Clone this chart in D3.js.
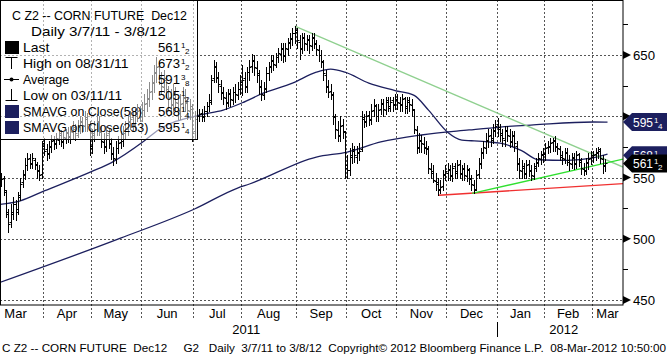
<!DOCTYPE html>
<html><head><meta charset="utf-8">
<script src="https://cdn.jsdelivr.net/npm/d3@7"></script>
<style>
body{margin:0;background:#fff}
svg{display:block}
text{font-family:"Liberation Sans",Arial,sans-serif;white-space:pre}
</style>
</head><body>
<svg id="c" width="668" height="356"></svg>
<script>
// ---- DATA (daily OHLC, trading days 3/7/11 .. 3/8/12) ----
const opens = [
544,547,550,538,520,514,522,528,524,536,546,553,560,566,561,564,561,555,553,
578,573,569,575,581,577,581,586,579,582,587,583,587,591,585,591,596,592,599,594,
574,586,590,596,587,579,575,586,577,569,565,574,579,580,586,590,596,599,593,600,605,
600,605,611,614,621,627,636,641,631,624,631,621,616,609,619,611,604,611,616,611,604,606,
588,598,600,603,599,604,608,613,631,641,631,625,619,615,611,619,613,620,617,622,
628,631,624,636,641,646,639,634,624,617,623,635,641,646,642,648,651,656,649,655,661,663,668,
669,661,656,664,659,663,657,665,659,654,650,644,634,624,621,617,599,589,584,593,587,
560,556,567,573,567,571,573,599,595,601,597,605,609,600,606,611,605,613,607,613,609,
613,611,609,615,607,613,609,605,589,574,581,577,574,573,557,555,547,546,541,543,553,
554,557,551,559,554,561,553,558,551,557,549,544,541,553,561,571,574,581,585,581,589,
594,591,585,581,589,584,579,585,576,561,555,559,553,561,555,551,559,563,565,569,
569,575,575,579,581,575,573,567,565,571,563,561,567,561,569,563,557,555,563,566,
567,569,571,573,565,559];
const highs = [
552,554,551,540,524,528,534,532,538,550,556,566,570,569,570,566,563,560,580,
582,577,580,585,584,586,590,589,587,590,591,592,596,594,597,600,599,604,603,596,
590,596,602,600,592,586,592,590,582,575,580,584,588,592,596,600,604,604,606,610,608,
612,618,622,628,634,642,648,645,636,638,634,625,622,626,624,616,618,624,622,616,614,610,
604,604,606,606,608,612,618,634,646,644,636,630,624,620,622,622,624,626,628,634,
642,636,640,646,651,650,645,638,630,628,640,644,650,650,652,656,660,660,660,664,668,672,673.5,
672,666,668,668,666,666,668,668,662,658,654,646,638,630,626,620,602,596,600,598,588,
568,574,578,576,576,578,604,602,604,604,610,614,610,610,614,614,616,616,616,616,618,
618,616,618,616,616,616,614,606,592,586,585,583,580,576,562,560,554,550,548,556,560,
562,560,562,562,564,564,560,562,560,558,552,548,556,566,574,580,586,590,590,594,597,
598.5,594,590,592,592,590,588,588,580,566,564,562,564,564,560,562,566,570,572,574,
578,580,582,582,584,578,576,572,574,574,568,570,570,572,570,566,562,566,570,572,
572,574,575,574,568,565];
const lows = [
540,543,536,518,505.5,510,516,515,520,532,542,549,556,558,558,557,550,548,550,
568,564,566,571,573,574,577,576,574,578,579,578,582,581,583,586,587,588,588,568,
570,580,585,585,575,570,572,574,565,560,562,570,574,576,582,585,590,589,590,596,596,
596,600,604,608,614,620,628,626,618,620,616,606,602,604,604,598,598,604,604,598,598,580,
582,594,596,596,596,600,604,610,628,628,620,614,610,606,608,608,610,612,614,618,
617,620,620,630,636,634,628,618,613,614,620,630,636,638,640,644,646,644,645,650,656,658,660,
656,647,652,654,654,652,654,656,650,645,640,630,620,616,614,594,582,580,580,582,550,
550,552,562,563,562,564,572,591,592,593,594,600,596,596,602,600,602,604,604,604,606,
606,604,604,603,603,604,600,586,570,571,571,570,569,554,550,546,540,536,537,540,548,
548,548,547,550,550,550,548,548,547,545,540,537,540,550,558,566,570,575,576,578,584,
584,580,576,576,580,575,576,572,556,550,550,550,550,551,548,549,555,559,561,563,
564,570,571,572,572,569,564,561,562,560,556,558,557,558,559,553,552,553,557,561,
563,564,566,562,554,555];
const closes = [
546,549,540,522,512,520,528,522,534,545,552,560,565,562,566,560,556,552,576,
572,570,576,580,578,582,585,580,583,586,584,588,590,586,592,595,593,598,594,576,
585,590,595,588,580,576,585,578,570,566,574,578,580,586,590,595,598,594,600,604,600,
605,610,615,620,628,635,640,632,625,630,622,615,610,618,612,605,610,615,612,605,608,586,
598,600,602,600,604,608,612,630,640,632,626,620,616,612,618,614,620,618,622,628,
630,625,636,640,645,640,635,625,618,622,635,640,645,643,648,652,655,650,656,660,664,668,670,
662,655,665,660,662,658,664,660,655,650,645,635,625,620,618,600,590,585,592,588,558,
556,568,572,568,570,572,598,596,600,598,604,608,600,605,610,606,612,608,612,610,614,
612,610,614,608,612,610,606,590,575,580,578,575,574,558,554,548,545,540,542,552,555,
556,552,558,555,560,554,557,552,556,550,545,540,552,562,570,575,580,584,582,588,592,
590,586,582,588,585,580,584,578,562,556,558,554,560,556,552,558,562,566,568,570,
574,576,578,580,576,574,568,566,570,564,562,566,562,568,564,558,556,562,565,568,
568,570,572,566,560,561.5];

// moving averages (bar index, value)
const ma58Idx = [0,9,19,39,47,61,67,84,94,102,111,123,133,139,145,155,166,174,180,188,194,198,205,210,219,226,238,249,255];
const ma58Val = [528,531,539,555,562,580,589,601,605,611,619,627,636,638.5,636,627,621,617,605,587,580.5,580,579,578,572,564.5,564,566,569];
const ma253Idx = [0,51,82,100,105,133,146,160,177,197,210,224,249,255];
const ma253Val = [464,500.5,524.3,541.4,544.7,566.7,570.8,579,584.7,588.8,591.2,592.9,595.3,595.25];

// trend lines (bar index, value)
const resistIdx = [124,261.5], resistVal = [673.5,558.5];
const supportIdx = [198.3,261.5], supportVal = [537,565];
const floorIdx = [184.4,261.5], floorVal = [535.5,545];

// axis / calendar
const monthNames = ["Mar","Apr","May","Jun","Jul","Aug","Sep","Oct","Nov","Dec","Jan","Feb","Mar"];
const monthStartIdx = [-4,19,39,60,82,102,125,146,167,188,209,229,249];
const yearLabels = ["2011","2012"];
const yearStartIdx = [-4,209];
const majorTicks = [450,500,550,600,650];
const labelTicks = [450,500,550,650];
const minorTicks = [475,525,575,625,675];

const legendLabels = ["Last","High on 08/31/11","Average","Low on 03/11/11","SMAVG on Close(58)","SMAVG on Close(253)"];
const legendValues = [["561","1","2"],["673","1","2"],["591","3","8"],["505","1","2"],["568","1","4"],["595","1","4"]];
const tagValues = [595.25,568.25,561.5];
const tagTexts = [["595","1","4"],["568","1","4"],["561","1","2"]];
const footerText = "C Z2 -- CORN FUTURE  Dec12     G2   Daily  3/7/11 to 3/8/12  Copyright\u00A9 2012 Bloomberg Finance L.P.  08-Mar-2012 10:50:00";

// ---- DRAW ----
const svg = d3.select('#c');
const PR = 623, PB = 305;
const xs = d3.scaleLinear().domain([18.5,248.5]).range([43,592]);
const ys = d3.scaleLinear().domain([450,650]).range([300,55]);
const NAVY = "#1c1f5e";

svg.append('rect').attr('width',668).attr('height',356).attr('fill','#fff');
const defs = svg.append('defs');
defs.append('clipPath').attr('id','clip')
  .append('rect').attr('x',0).attr('y',0).attr('width',PR).attr('height',PB);

const fit = (sel,w)=>sel.attr('textLength',w).attr('lengthAdjust','spacingAndGlyphs');
const hp = v=>Math.round(v)+0.5;

// gridlines
const grid = svg.append('g').attr('stroke','#555').attr('stroke-dasharray','2,2').attr('stroke-width',1);
majorTicks.forEach(v=>{
  grid.append('line').attr('x1',0).attr('x2',PR).attr('y1',hp(ys(v))).attr('y2',hp(ys(v)));
});
monthStartIdx.slice(1).forEach(i=>{
  const x = hp(xs(i-0.5));
  grid.append('line').attr('x1',x).attr('x2',x).attr('y1',0).attr('y2',319);
});

const plot = svg.append('g').attr('clip-path','url(#clip)');

// moving averages
const lineGen = d3.line().x(d=>xs(d[0])).y(d=>ys(d[1])).curve(d3.curveMonotoneX);
plot.append('path').attr('d',lineGen(ma253Idx.map((d,k)=>[d,ma253Val[k]])))
  .attr('fill','none').attr('stroke',NAVY).attr('stroke-width',1.3);
plot.append('path').attr('d',lineGen(ma58Idx.map((d,k)=>[d,ma58Val[k]])))
  .attr('fill','none').attr('stroke',NAVY).attr('stroke-width',1.3);

// trend lines
const straight = d3.line().x(d=>xs(d[0])).y(d=>ys(d[1]));
plot.append('path').attr('d',straight(resistIdx.map((d,k)=>[d,resistVal[k]])))
  .attr('stroke','#8fd08f').attr('stroke-width',1.3).attr('fill','none');
plot.append('path').attr('d',straight(floorIdx.map((d,k)=>[d,floorVal[k]])))
  .attr('stroke','#f03030').attr('stroke-width',1.4).attr('fill','none');
plot.append('path').attr('d',straight(supportIdx.map((d,k)=>[d,supportVal[k]])))
  .attr('stroke','#30e030').attr('stroke-width',1.4).attr('fill','none');

// OHLC bars
const bars = plot.append('g').attr('stroke','#000').attr('stroke-width',1);
closes.forEach((c,i)=>{
  const x = hp(xs(i));
  bars.append('line').attr('x1',x).attr('x2',x).attr('y1',Math.round(ys(highs[i]))).attr('y2',Math.round(ys(lows[i]))+1);
  const yo = hp(ys(opens[i])), yc = hp(ys(c));
  bars.append('line').attr('x1',x-2).attr('x2',x).attr('y1',yo).attr('y2',yo);
  bars.append('line').attr('x1',x).attr('x2',x+2).attr('y1',yc).attr('y2',yc);
});

// frame
svg.append('rect').attr('x',0.5).attr('y',0.5).attr('width',PR-0.5).attr('height',PB-0.5)
  .attr('fill','none').attr('stroke','#000');

// right axis
const ax = svg.append('g').attr('transform',`translate(${PR},0)`)
  .call(d3.axisRight(ys).tickValues(labelTicks).tickSize(0).tickPadding(10).tickFormat(d3.format('d')));
ax.select('.domain').remove();
ax.selectAll('text').attr('font-size',13).attr('fill','#000').attr('font-family','Liberation Sans')
  .attr('dy','0.36em').each(function(){fit(d3.select(this),22);});
majorTicks.forEach(v=>{
  const y = ys(v);
  svg.append('path').attr('d',`M${PR},${y-4}L${PR},${y+4}L${PR+8},${y}Z`).attr('fill','#000');
});
minorTicks.forEach(v=>{
  const y = hp(ys(v));
  svg.append('line').attr('x1',PR).attr('x2',PR+5).attr('y1',y).attr('y2',y).attr('stroke','#000');
});

// fraction number: whole part ending at xEnd, small stacked fraction after it
function fracNum(g, xEnd, yBase, parts, color, w){
  g.append('text').attr('x',xEnd).attr('y',yBase).attr('text-anchor','end').attr('font-size',13)
    .attr('fill',color).text(parts[0]).call(s=>fit(s,w));
  g.append('text').attr('x',xEnd+1).attr('y',yBase-4).attr('font-size',8).attr('fill',color).text(parts[1]);
  g.append('text').attr('x',xEnd+5).attr('y',yBase+2).attr('font-size',8).attr('fill',color).text(parts[2]);
}

// value tags (the 568 tag is partly hidden under the last-price tag, as in the original)
const tagColors = [NAVY,NAVY,"#000"];
[0,1,2].forEach(k=>{
  const yc = ys(tagValues[k]);
  const g = svg.append('g');
  g.append('path').attr('d',`M${PR},${yc}L${PR+9},${yc-9}L${PR+44},${yc-9}L${PR+44},${yc+9}L${PR+9},${yc+9}Z`)
    .attr('fill',tagColors[k]);
  fracNum(g, 653, yc+5, tagTexts[k], '#fff', 20);
});

// bottom month labels
const xAxisY = 318;
monthNames.forEach((m,k)=>{
  const a = Math.max(xs(monthStartIdx[k]-0.5), -13);
  const b = k<monthNames.length-1 ? xs(monthStartIdx[k+1]-0.5) : PR;
  svg.append('text').attr('x',(a+b)/2).attr('y',xAxisY).attr('text-anchor','middle')
    .attr('font-size',13).text(m);
});
yearLabels.forEach((yl,k)=>{
  const a = xs(yearStartIdx[k]-0.5);
  const b = k<yearLabels.length-1 ? xs(yearStartIdx[k+1]-0.5) : PR;
  svg.append('text').attr('x',(a+b)/2+4).attr('y',334).attr('text-anchor','middle')
    .attr('font-size',13).text(yl);
});
const sepX = hp(xs(yearStartIdx[1]-0.5));
svg.append('line').attr('x1',sepX).attr('x2',sepX).attr('y1',322).attr('y2',337).attr('stroke','#000');

// footer
svg.append('text').attr('x',2).attr('y',352).attr('font-size',11.5).text(footerText).call(s=>fit(s,664));

// legend
const lg = svg.append('g');
lg.append('rect').attr('x',0.5).attr('y',0.5).attr('width',197).attr('height',139)
  .attr('fill','#fff').attr('fill-opacity',0.55).attr('stroke','#000');
lg.append('text').attr('x',12).attr('y',20).attr('font-size',13).text("C Z2 -- CORN FUTURE  Dec12").call(s=>fit(s,175));
lg.append('text').attr('x',31).attr('y',36).attr('font-size',13).text("Daily 3/7/11 - 3/8/12").call(s=>fit(s,135));
legendLabels.forEach((l,k)=>{
  const yc = 47 + k*16;
  lg.append('text').attr('x',23).attr('y',yc+5).attr('font-size',13).text(l).call(s=>fit(s,l.length*6.6));
  fracNum(lg, 180, yc+5, legendValues[k], '#000', 22);
});
// legend icons
lg.append('rect').attr('x',5).attr('y',41).attr('width',14).attr('height',13).attr('fill','#000');
lg.append('path').attr('d','M5.5,57.5H17.5M11.5,57.5V69').attr('stroke','#000').attr('fill','none');
lg.append('path').attr('d','M4,79.5H19').attr('stroke','#000');
lg.append('circle').attr('cx',11.5).attr('cy',79.5).attr('r',2).attr('fill','#000');
lg.append('path').attr('d','M11.5,89V100.5M5.5,100.5H17.5').attr('stroke','#000').attr('fill','none');
lg.append('rect').attr('x',5).attr('y',105).attr('width',14).attr('height',13).attr('fill',NAVY);
lg.append('rect').attr('x',5).attr('y',121).attr('width',14).attr('height',13).attr('fill',NAVY);
</script>
</body></html>
